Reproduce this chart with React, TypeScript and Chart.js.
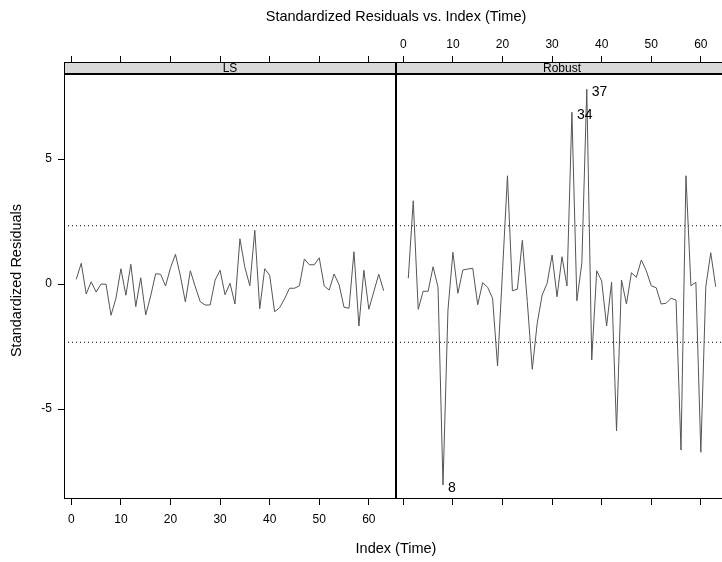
import React, { useEffect, useRef } from 'react';
import { Chart, registerables } from 'chart.js';

Chart.register(...registerables);

// ---- data ----
const PANELS = ['LS', 'Robust'];
const TIME_INDEX = [
  1, 2, 3, 4, 5, 6, 7, 8, 9, 10, 11, 12, 13, 14, 15, 16, 17, 18, 19, 20, 21,
  22, 23, 24, 25, 26, 27, 28, 29, 30, 31, 32, 33, 34, 35, 36, 37, 38, 39, 40,
  41, 42, 43, 44, 45, 46, 47, 48, 49, 50, 51, 52, 53, 54, 55, 56, 57, 58, 59,
  60, 61, 62, 63,
];
const LS_RESID = [
  0.19, 0.83, -0.4, 0.09, -0.32, 0.0, -0.01, -1.25, -0.57, 0.61, -0.45, 0.79,
  -0.9, 0.25, -1.24, -0.48, 0.41, 0.39, -0.08, 0.65, 1.19, 0.32, -0.72, 0.53,
  -0.11, -0.71, -0.84, -0.84, 0.16, 0.55, -0.43, 0.03, -0.8, 1.81, 0.67, -0.07,
  2.15, -0.99, 0.61, 0.35, -1.11, -0.95, -0.59, -0.17, -0.17, -0.07, 1.0, 0.77,
  0.77, 1.05, -0.08, -0.24, 0.4, -0.03, -0.93, -0.97, 1.29, -1.68, 0.55, -1.01,
  -0.31, 0.39, -0.27,
];
const ROBUST_RESID = [
  0.23, 3.33, -1.01, -0.29, -0.29, 0.69, -0.13, -8.04, -1.04, 1.27, -0.37, 0.56,
  0.6, 0.63, -0.83, 0.05, -0.13, -0.57, -3.28, 0.5, 4.33, -0.27, -0.21, 1.75,
  -0.7, -3.41, -1.57, -0.44, 0.03, 1.16, -0.51, 1.09, -0.08, 6.87, -0.67, 0.83,
  7.79, -3.04, 0.53, 0.12, -1.68, 0.07, -5.88, 0.16, -0.8, 0.45, 0.27, 0.96,
  0.53, -0.07, -0.15, -0.8, -0.77, -0.57, -0.64, -6.64, 4.33, -0.07, 0.07,
  -6.73, -0.11, 1.25, -0.11,
];
const OUTLIERS = [8, 34, 37];
const REF_LEVEL = 2.33;
const X_TICKS = [0, 10, 20, 30, 40, 50, 60];
const Y_TICKS = [-5, 0, 5];

// ---- layout constants ----
const X_LO = -1.48;
const X_HI = 65.48;
const OFFSET = X_HI - X_LO; // second panel offset
const Y_MIN = -8.6;
const Y_MAX = 8.88;
const STRIP_H = 12;
const FONT = "'Liberation Sans', Arial, Helvetica, sans-serif";
const LABEL_SIZE = 14.5;
const TICK_SIZE = 12;

const panelPlugin = {
  id: 'panels',
  afterDatasetsDraw(chart: any) {
    const ctx = chart.ctx;
    const xs = chart.scales.x;
    const ys = chart.scales.y;
    const top = chart.chartArea.top;
    const bottom = chart.chartArea.bottom;
    const stripBottom = top + STRIP_H;
    ctx.save();
    // outlier labels
    ctx.fillStyle = '#000';
    ctx.font = `14px ${FONT}`;
    ctx.textAlign = 'left';
    ctx.textBaseline = 'middle';
    OUTLIERS.forEach((idx) => {
      const px = xs.getPixelForValue(TIME_INDEX[idx - 1] + OFFSET);
      const py = ys.getPixelForValue(ROBUST_RESID[idx - 1]);
      ctx.fillText(String(idx), px + 5, py + 3);
    });
    const bounds = [
      [X_LO, X_HI],
      [X_HI, X_HI + OFFSET],
    ];
    PANELS.forEach((name, i) => {
      const l = Math.round(xs.getPixelForValue(bounds[i][0]));
      const r = Math.round(xs.getPixelForValue(bounds[i][1]));
      ctx.fillStyle = '#d9d9d9';
      ctx.fillRect(l, top, r - l, STRIP_H);
      ctx.strokeStyle = '#000';
      ctx.lineWidth = 1;
      ctx.strokeRect(l + 0.5, top + 0.5, r - l - 1, STRIP_H - 1);
      ctx.strokeRect(l + 0.5, stripBottom + 0.5, r - l - 1, bottom - stripBottom - 1);
      ctx.fillStyle = '#000';
      ctx.font = `12px ${FONT}`;
      ctx.textAlign = 'center';
      ctx.textBaseline = 'middle';
      ctx.fillText(name, (l + r) / 2, top + STRIP_H / 2 + 1);
    });
    ctx.restore();
  },
};

export default function App() {
  const ref = useRef<HTMLCanvasElement | null>(null);
  useEffect(() => {
    if (!ref.current) return;
    const lsData = TIME_INDEX.map((x, i) => ({ x, y: LS_RESID[i] }));
    const rbData = TIME_INDEX.map((x, i) => ({ x: x + OFFSET, y: ROBUST_RESID[i] }));
    const refLine = (a: number, b: number, y: number) => ({
      data: [
        { x: a, y },
        { x: b, y },
      ],
      borderColor: '#000',
      borderWidth: 1,
      borderDash: [1, 3],
      pointRadius: 0,
      tension: 0,
    });
    const allTicks = [...X_TICKS, ...X_TICKS.map((v) => v + OFFSET)];
    const chart = new Chart(ref.current, {
      type: 'line',
      data: {
        datasets: [
          { data: lsData, borderColor: '#555', borderWidth: 1, pointRadius: 0, tension: 0 },
          { data: rbData, borderColor: '#555', borderWidth: 1, pointRadius: 0, tension: 0 },
          refLine(X_LO, X_HI, REF_LEVEL),
          refLine(X_LO, X_HI, -REF_LEVEL),
          refLine(X_HI, X_HI + OFFSET, REF_LEVEL),
          refLine(X_HI, X_HI + OFFSET, -REF_LEVEL),
        ] as any,
      },
      options: {
        animation: false,
        responsive: false,
        events: [],
        layout: { padding: 0 },
        plugins: {
          legend: { display: false },
          tooltip: { enabled: false },
          title: {
            display: true,
            fullSize: false,
            text: 'Standardized Residuals vs. Index (Time)',
            color: '#000',
            font: { family: FONT, size: LABEL_SIZE, weight: 'normal', lineHeight: '14px' } as any,
            padding: { top: 10, bottom: 10 },
          },
        },
        scales: {
          x: {
            type: 'linear',
            position: 'bottom',
            min: X_LO,
            max: X_HI + OFFSET,
            afterBuildTicks: (s: any) => {
              s.ticks = allTicks.map((v) => ({ value: v }));
            },
            afterFit: (s: any) => {
              s.height = 63;
            },
            ticks: {
              autoSkip: false,
              maxRotation: 0,
              padding: 7,
              color: '#000',
              font: { family: FONT, size: TICK_SIZE },
              callback: (v: any) => (Number(v) < X_HI ? String(Math.round(Number(v))) : ''),
            },
            grid: { drawOnChartArea: false, color: '#000', tickLength: 6 },
            border: { display: false },
            title: {
              display: true,
              text: 'Index (Time)',
              color: '#000',
              font: { family: FONT, size: LABEL_SIZE },
              padding: { top: 0, bottom: 4 },
            },
          },
          x2: {
            type: 'linear',
            position: 'top',
            min: X_LO,
            max: X_HI + OFFSET,
            afterBuildTicks: (s: any) => {
              s.ticks = allTicks.map((v) => ({ value: v }));
            },
            afterFit: (s: any) => {
              s.height = 28;
            },
            ticks: {
              autoSkip: false,
              maxRotation: 0,
              padding: 4,
              color: '#000',
              font: { family: FONT, size: TICK_SIZE },
              callback: (v: any) =>
                Number(v) > X_HI ? String(Math.round(Number(v) - OFFSET)) : '',
            },
            grid: { drawOnChartArea: false, color: '#000', tickLength: 6 },
            border: { display: false },
          },
          y: {
            type: 'linear',
            position: 'left',
            min: Y_MIN,
            max: Y_MAX,
            afterBuildTicks: (s: any) => {
              s.ticks = Y_TICKS.map((v) => ({ value: v }));
            },
            afterFit: (s: any) => {
              s.width = 64;
            },
            ticks: {
              padding: 6,
              color: '#000',
              font: { family: FONT, size: TICK_SIZE },
              callback: (v: any) => String(v),
            },
            grid: { drawOnChartArea: false, color: '#000', tickLength: 6 },
            border: { display: false },
            title: {
              display: true,
              text: 'Standardized Residuals',
              color: '#000',
              font: { family: FONT, size: LABEL_SIZE },
              padding: { top: 8, bottom: 0 },
            },
          },
        },
      } as any,
      plugins: [panelPlugin],
    });
    return () => chart.destroy();
  }, []);
  return (
    <div
      style={{
        position: 'fixed',
        left: 0,
        top: 0,
        width: 722,
        height: 562,
        overflow: 'hidden',
        background: '#fff',
      }}
    >
      <canvas ref={ref} width={728} height={562} style={{ display: 'block' }} />
    </div>
  );
}
